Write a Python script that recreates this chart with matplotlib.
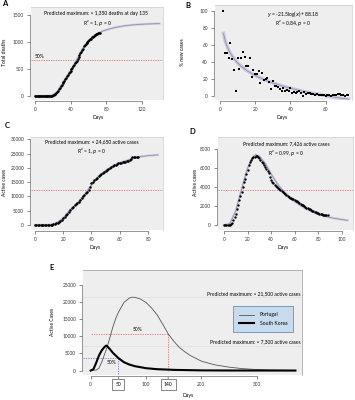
import matplotlib
matplotlib.use("Agg")
import matplotlib.pyplot as plt

W, H = 355, 400

# ---- panel A: total deaths ----
days_a = list(range(0, 74))
deaths_a = [0] * 15 + [0, 1, 2, 4, 8,
            15, 23, 33, 43, 60, 76, 100, 125, 150, 178,
            206, 232, 258, 284, 310, 340, 365, 392, 418, 445,
            470, 497, 525, 550, 578, 605, 632, 657, 685, 727,
            765, 795, 822, 850, 880, 920, 940, 960, 980, 1000,
            1018, 1035, 1050, 1065, 1085, 1100, 1114, 1126, 1135, 1144,
            1156, 1163, 1170, 1175]
fit_days_a = [0, 10, 15, 20, 25, 30, 35, 40, 45, 50, 55, 60, 65, 70, 75, 80, 90, 100, 110, 120, 130, 140]
fit_a = [0, 0, 2, 15, 78, 205, 338, 470, 610, 765, 915, 1018, 1100, 1155, 1195, 1225, 1270, 1300, 1318, 1330, 1337, 1342]

# ---- panel B: % new cases ----
days_b = list(range(2, 74))
pct_b = [100, 50, 50, 44, 62, 43, 30, 5, 44, 32, 44, 51, 45, 35, 35, 44, 22, 30, 25, 25,
         29, 15, 27, 18, 20, 21, 16, 8, 17, 12, 11, 10, 8, 6, 9, 5, 7, 6, 9, 3,
         4, 3, 4, 5, 3, 0, 4, 2, 3, 3, 2, 2, 1, 2, 1, 1, 1, 1, 0, 1,
         1, 0, 1, 1, 1, 2, 2, 1, 1, 0, 1, 1]
fit_days_b = [2, 3, 4, 5, 6, 8, 10, 12, 15, 20, 25, 30, 35, 40, 45, 50, 55, 60, 65, 70, 73]
fit_b = [73.3, 64.6, 58.4, 53.6, 49.7, 43.5, 38.7, 34.8, 29.9, 23.8, 19.0, 15.1, 11.7,
         8.9, 6.3, 4.1, 2.0, 0.2, -1.6, -3.2, -4.0]

# ---- panel C: active cases ----
days_c = list(range(0, 74))
cases_c = [0, 0, 0, 0, 10, 20, 30, 40, 50, 60, 80, 100, 150, 200, 350,
           600, 800, 1100, 1500, 1900, 2400, 2900, 3400, 4000, 4700,
           5400, 5900, 6400, 6900, 7300, 7700, 8200, 8800, 9400, 10000,
           10600, 11100, 11600, 12400, 13300, 14700, 15200, 15700, 16200, 16600,
           17100, 17500, 17900, 18300, 18700, 19100, 19400, 19700, 20000, 20300,
           20600, 20900, 21200, 21400, 21600, 21800, 21900, 22000, 22100, 22200,
           22400, 22600, 22900, 23300, 23700, 23900, 23800, 23700, 23800]
fit_days_c = [0, 10, 15, 20, 25, 30, 35, 40, 45, 50, 55, 60, 65, 70, 75, 80, 85, 87]
fit_c = [0, 50, 600, 2400, 5400, 7700, 10600, 14000, 17100, 19100, 20600, 21800, 22600,
         23500, 24000, 24300, 24500, 24550]

# ---- panel D: active cases ----
days_d = list(range(0, 89))
cases_d = [0, 0, 0, 0, 10, 50, 120, 250, 500, 800,
           1200, 1650, 2100, 2600, 3100, 3500, 4000, 4500, 4900, 5400,
           5800, 6300, 6700, 6900, 7050, 7150, 7220, 7300, 7290, 7200,
           7040, 6900, 6700, 6500, 6350, 6150, 5900, 5700, 5450, 5100,
           4750, 4550, 4400, 4250, 4150, 4050, 3950, 3850, 3700, 3600,
           3520, 3400, 3300, 3200, 3100, 3000, 2900, 2820, 2750, 2700,
           2640, 2560, 2500, 2420, 2330, 2220, 2150, 2070, 2000, 1920,
           1830, 1760, 1700, 1640, 1560, 1480, 1430, 1380, 1330, 1280,
           1230, 1190, 1150, 1120, 1090, 1060, 1050, 1040, 1030]
fit_days_d = [0, 5, 10, 15, 20, 25, 27, 30, 35, 40, 45, 50, 55, 60, 65, 70, 75, 80, 85, 90, 95, 100, 105]
fit_d = [0, 150, 1500, 3800, 6000, 7250, 7426, 7250, 6500, 5400, 4400, 3650, 3000, 2500,
         2050, 1700, 1400, 1150, 950, 800, 680, 580, 490]

# ---- panel E: predicted curves ----
days_pt = [0, 10, 15, 20, 25, 30, 35, 40, 45, 50, 60, 70, 75, 80, 90, 100, 110, 120, 130,
           140, 150, 160, 170, 180, 200, 225, 250, 275, 300, 330, 370]
cases_pt = [0, 150, 700, 2500, 4700, 7000, 9800, 12700, 15100, 17000, 19900, 21200, 21450,
            21400, 20900, 19900, 18300, 16300, 13600, 10750, 8600, 6800, 5500, 4400, 2750,
            1650, 1000, 550, 300, 120, 30]
days_kr = [0, 5, 10, 15, 20, 25, 28, 30, 35, 40, 50, 60, 70, 80, 100, 120, 150, 200, 250, 370]
cases_kr = [0, 400, 2300, 4400, 5900, 6900, 7300, 7100, 6200, 5200, 3650, 2450, 1750, 1270,
            690, 400, 200, 50, 15, 0]

plt.rcParams["font.family"] = ["Lato", "DejaVu Sans"]


def box(l, r, t, b):
    return [l / W, 1 - b / H, (r - l) / W, (b - t) / H]


def style(ax, xticks, yticks):
    ax.set_facecolor("#eeeeee")
    for s in ("top", "right"):
        ax.spines[s].set_color("#cccccc")
        ax.spines[s].set_linewidth(0.5)
    for s in ("left", "bottom"):
        ax.spines[s].set_color("#444444")
        ax.spines[s].set_linewidth(0.4)
        ax.spines[s].set_position(("outward", 1))
    ax.spines["bottom"].set_bounds(xticks[0], xticks[-1])
    ax.spines["left"].set_bounds(yticks[0], yticks[-1])
    ax.set_xticks(xticks)
    ax.set_yticks(yticks)
    ax.tick_params(labelsize=3.4, length=2, width=0.4, pad=2, colors="#333333")


def labels(xlab, xy, ylab, yx, ymid):
    # axis titles placed in figure pixels
    fig.text(xy[0] / W, 1 - xy[1] / H, xlab, fontsize=fs, ha="center", va="center")
    fig.text(yx / W, 1 - ymid / H, ylab, fontsize=fs, ha="center", va="center", rotation=90)


fig = plt.figure(figsize=(W / 100, H / 100), dpi=100)
fs = 3.6
fit_col = "#9088b0"
band = "#cdc8dc"
red = "#e06060"
dash = (0, (2, 1.5))

# A
ax = fig.add_axes(box(31, 163, 7, 100))
ax.axhline(675, color=red, ls=dash, lw=0.5)
ax.plot(fit_days_a, fit_a, color=band, lw=1.6)
ax.plot(fit_days_a, fit_a, color=fit_col, lw=0.5)
ax.plot(days_a, deaths_a, "o", color="black", ms=1.8, mew=0)
ax.set_xlim(-4.5, 144)
ax.set_ylim(-75, 1650)
style(ax, [0, 40, 80, 120], [0, 500, 1000, 1500])
ax.text(68, 1525, "Predicted maximum: \u2248 1,350 deaths at day 135", fontsize=fs, ha="center", va="center")
ax.text(70, 1345, "R\u00b2 = 1, $p$ = 0", fontsize=fs, ha="center", va="center")
ax.text(0, 740, "50%", fontsize=fs, ha="left", va="center")
labels("Days", (98, 118), "Total deaths", 5, 52)

# B
ax = fig.add_axes(box(215, 352, 5, 100))
ax.plot(fit_days_b, fit_b, color=band, lw=2.6)
ax.plot(fit_days_b, fit_b, color=fit_col, lw=0.5)
ax.plot(days_b, pct_b, "s", color="black", ms=1.6, mew=0)
ax.set_xlim(-2.8, 75)
ax.set_ylim(-5, 106.7)
style(ax, [0, 20, 40, 60], [0, 20, 40, 60, 80, 100])
ax.text(41.5, 96, "$y$ = -21.5log($x$) + 88.18", fontsize=fs, ha="center", va="center")
ax.text(41.5, 85.5, "R\u00b2 = 0.84, $p$ = 0", fontsize=fs, ha="center", va="center")
labels("Days", (282, 118), "% new cases", 183, 52)

# C
ax = fig.add_axes(box(31, 163, 137, 230))
ax.axhline(12300, color=red, ls=dash, lw=0.5)
ax.plot(fit_days_c, fit_c, color=band, lw=1.6)
ax.plot(fit_days_c, fit_c, color=fit_col, lw=0.5)
ax.plot(days_c, cases_c, "o", color="black", ms=1.8, mew=0)
ax.set_xlim(-2.8, 90.6)
ax.set_ylim(-1760, 30850)
style(ax, [0, 20, 40, 60, 80], [0, 5000, 10000, 15000, 20000, 25000, 30000])
ax.text(40, 29200, "Predicted maximum: \u2248 24,650 active cases", fontsize=fs, ha="center", va="center")
ax.text(40, 26000, "R\u00b2 = 1, $p$ = 0", fontsize=fs, ha="center", va="center")
labels("Days", (95, 248), "Active cases", 5, 183)

# D
ax = fig.add_axes(box(218, 353, 137, 230))
ax.axhline(3713, color=red, ls=dash, lw=0.5)
ax.plot(fit_days_d, fit_d, color=band, lw=1.6)
ax.plot(fit_days_d, fit_d, color=fit_col, lw=0.5)
ax.plot(days_d, cases_d, "o", color="black", ms=1.7, mew=0)
ax.set_xlim(-5.1, 109.6)
ax.set_ylim(-528, 9300)
style(ax, [0, 20, 40, 60, 80, 100], [0, 2000, 4000, 6000, 8000])
ax.text(53, 8560, "Predicted maximum: 7,426 active cases", fontsize=fs, ha="center", va="center")
ax.text(53, 7580, "R\u00b2 = 0.99, $p$ = 0", fontsize=fs, ha="center", va="center")
labels("Days", (283, 248), "Active cases", 195, 183)

# E
ax = fig.add_axes(box(83, 302, 270, 375))
ax.axhline(21500, color="#e0e0e0", lw=0.6)
ax.axhline(7300, color="#e0e0e0", lw=0.6)
ax.plot([0, 140], [10750, 10750], color=red, ls=dash, lw=0.5)
ax.plot([140, 140], [10750, 0], color=red, ls=dash, lw=0.5)
ax.plot([-13.9, 50], [3650, 3650], color="#6070d0", ls=dash, lw=0.5)
ax.plot([50, 50], [3650, -1300], color="#6070d0", ls=dash, lw=0.5)
ax.plot(days_pt, cases_pt, color="#555555", lw=0.6, label="Portugal")
ax.plot(days_kr, cases_kr, color="black", lw=1.5, label="South Korea")
ax.set_xlim(-13.9, 381.9)
ax.set_ylim(-1300, 29400)
style(ax, [0, 100, 200, 300], [0, 5000, 10000, 15000, 20000, 25000])
ax.spines["top"].set_color("#999999")
ax.spines["right"].set_color("#999999")
ax.text(85, 12000, "50%", fontsize=fs, ha="center", va="center")
ax.text(38, 2300, "50%", fontsize=fs, ha="center", va="center")
ax.text(379, 22600, "Predicted maximum: \u2248 21,500 active cases", fontsize=fs, ha="right", va="center")
ax.text(379, 8400, "Predicted maximum: \u2248 7,300 active cases", fontsize=fs, ha="right", va="center")
leg = ax.legend(loc="center", bbox_to_anchor=(0.822, 0.533), fontsize=fs, frameon=True,
                fancybox=False, borderpad=1.2, handlelength=3.0, handletextpad=1.2,
                labelspacing=0.7, borderaxespad=0)
leg.get_frame().set_facecolor("#c8dcf0")
leg.get_frame().set_edgecolor("#6a8fb5")
leg.get_frame().set_linewidth(0.6)
leg.get_frame().set_alpha(1)
for d in (50, 140):
    ax.annotate(str(d), xy=(d, -0.02), xycoords=ax.get_xaxis_transform(),
                xytext=(d, -0.09), textcoords=ax.get_xaxis_transform(),
                fontsize=fs, ha="center", va="center",
                bbox=dict(boxstyle="square,pad=0.6", fc="white", ec="#555555", lw=0.5),
                arrowprops=dict(arrowstyle="-", color="#555555", lw=0.5))
labels("Days", (188, 396), "Active Cases", 52, 322)

for letter, x, y in [("A", 5, 4), ("B", 188, 5), ("C", 7, 126), ("D", 192, 132), ("E", 52, 268)]:
    fig.text(x / W, 1 - y / H, letter, fontsize=5.5, fontweight="bold", ha="center", va="center")

fig.savefig("out.png", dpi=100)
